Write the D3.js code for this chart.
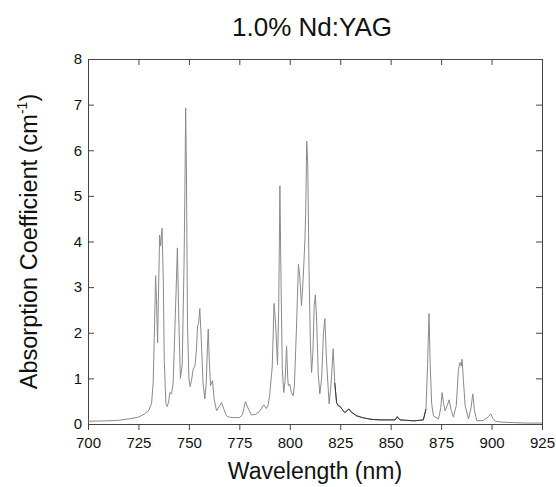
<!DOCTYPE html>
<html>
<head>
<meta charset="utf-8">
<script src="https://cdn.jsdelivr.net/npm/d3@7"></script>
<style>
  body { margin: 0; background: #fff; }
  text { font-family: "Liberation Sans", Arial, sans-serif; fill: #111; }
</style>
</head>
<body>
<svg width="556" height="487"></svg>
<script>

// wavelength (nm) and absorption coefficient (cm^-1)
var wavelength = [700,710,715,720,725,728,730,731.5,732.3,733,733.5,734,734.5,735,735.5,736,736.7,737.3,737.8,738.6,
    739.3,740,740.6,741.4,742.2,743.3,744.3,745,745.8,746.7,747.6,748,748.4,748.8,749.3,750,750.6,751.3,752.1,753,
    753.7,754.3,754.8,755.4,756.1,757,757.9,758.6,759.2,759.6,760.1,760.7,761.7,762.5,763.7,765,766.2,767.3,768.6,770,
    772,775,776.5,778,779.3,781,783,785.1,787.1,788.4,789.3,790,791.3,792.2,793,793.9,794.5,795.1,795.7,796.3,
    797,797.7,798.4,799,799.3,800,800.8,801.7,802.3,803.3,804.3,805,805.8,806.4,807,807.5,807.9,808.4,808.9,809.5,
    810.2,810.8,811.5,812.1,812.7,813.3,814.1,814.9,815.8,816.7,817.4,818.2,819.5,820.5,821.5,822.3,823.2,824,824.8,826,
    827.3,829.3,830.5,833.1,836,838.1,841,844.7,848,852.2,853.3,854.6,858,861.3,864,866.2,867.5,868.3,869,869.6,
    870.3,871.2,873.7,874.8,875.5,876.2,877,878,879,880,881.1,882.5,883.6,884.4,885,885.4,886,886.9,888.6,889.8,
    890.7,891.5,892.7,896,898.5,899.7,900.7,901.8,905,911,918,925];

var absorption = [0.06,0.07,0.08,0.11,0.15,0.22,0.29,0.45,0.9,2.2,3.25,2.6,1.78,3.0,4.14,3.9,4.29,3.2,1.4,0.45,
    0.38,0.5,0.69,0.66,0.9,2.4,3.86,2.3,1.0,1.3,3.5,5.0,6.93,5.5,2.2,1.0,0.82,0.95,1.2,1.27,
    1.6,2.15,2.2,2.53,1.9,0.9,0.55,0.9,1.7,2.08,1.4,0.84,0.95,0.55,0.29,0.38,0.47,0.33,0.18,0.15,
    0.14,0.14,0.2,0.49,0.35,0.2,0.21,0.28,0.42,0.34,0.42,0.62,1.25,2.64,2.19,1.3,2.5,5.22,3.0,1.2,
    0.69,0.95,1.71,1.0,0.84,0.87,0.69,0.62,0.85,2.08,3.5,3.2,2.59,3.0,3.53,4.04,4.65,6.2,5.7,3.5,
    1.8,1.13,1.6,2.6,2.83,2.3,1.1,0.66,1.0,2.0,2.31,1.4,0.44,0.9,1.65,0.9,0.47,0.4,0.39,0.32,
    0.25,0.33,0.26,0.18,0.14,0.12,0.1,0.09,0.09,0.09,0.16,0.09,0.08,0.07,0.08,0.09,0.33,1.3,2.42,1.3,
    0.45,0.18,0.11,0.35,0.69,0.45,0.29,0.4,0.53,0.3,0.15,0.4,1.2,1.35,1.27,1.42,1.0,0.4,0.11,0.35,
    0.66,0.3,0.07,0.08,0.16,0.22,0.12,0.06,0.04,0.03,0.02,0.02];

var xTicks = [700,725,750,775,800,825,850,875,900,925];
var yTicks = [0,1,2,3,4,5,6,7,8];

function main(){
    var svg = d3.select("svg"),
        left = 88, top = 59,
        width = 454, height = 365;

    var xScale = d3.scaleLinear().domain([700,925]).range([0,width]),
        yScale = d3.scaleLinear().domain([0,8]).range([height,0]);

    var xMinor = d3.range(700,925.1,12.5),
        yMinor = d3.range(0,8.01,0.5);

    var g = svg.append("g").attr("transform","translate("+left+","+top+")");

    // bottom axis: ticks point outward
    var bottom = g.append("g").attr("transform","translate(0,"+height+")")
        .call(d3.axisBottom(xScale).tickValues(xMinor).tickSize(4).tickFormat(""));
    bottom.call(d3.axisBottom(xScale).tickValues(xTicks).tickSize(6).tickPadding(7).tickFormat(d3.format("d")));
    bottom.selectAll("text").style("font-size","15px");

    // top axis mirror, ticks inward
    var topAx = g.append("g")
        .call(d3.axisTop(xScale).tickValues(xMinor).tickSize(-4).tickFormat(""));
    topAx.call(d3.axisTop(xScale).tickValues(xTicks).tickSize(-6).tickFormat(""));

    // left axis, ticks inward
    var leftAx = g.append("g")
        .call(d3.axisLeft(yScale).tickValues(yMinor).tickSize(-4).tickFormat(""));
    leftAx.call(d3.axisLeft(yScale).tickValues(yTicks).tickSize(-6).tickPadding(7).tickFormat(d3.format("d")));
    leftAx.selectAll("text").style("font-size","15px").attr("x",-6);

    // right axis mirror
    var rightAx = g.append("g").attr("transform","translate("+width+",0)")
        .call(d3.axisRight(yScale).tickValues(yMinor).tickSize(-4).tickFormat(""));
    rightAx.call(d3.axisRight(yScale).tickValues(yTicks).tickSize(-6).tickFormat(""));

    g.selectAll(".domain").attr("stroke","#444");
    g.selectAll(".tick line").attr("stroke","#444");

    var line = d3.line()
        .x(function(d,i){return xScale(wavelength[i]);})
        .y(function(d){return yScale(d);});

    g.append("path").datum(absorption)
        .attr("fill","none")
        .attr("stroke","#8a8a8a")
        .attr("stroke-width",1)
        .attr("stroke-linejoin","round")
        .attr("d",line);

    // the noisy stretch past 822 nm prints darker in the original
    var dark = d3.line()
        .defined(function(d,i){return wavelength[i] >= 822.3 && wavelength[i] <= 867.5;})
        .x(function(d,i){return xScale(wavelength[i]);})
        .y(function(d){return yScale(d);});
    g.append("path").datum(absorption)
        .attr("fill","none")
        .attr("stroke","#333")
        .attr("stroke-width",1)
        .attr("d",dark);

    svg.append("text")
        .attr("x",312).attr("y",36)
        .attr("text-anchor","middle")
        .style("font-size","26px")
        .text("1.0% Nd:YAG");

    svg.append("text")
        .attr("x",left+width/2).attr("y",479)
        .attr("text-anchor","middle")
        .style("font-size","23px")
        .text("Wavelength (nm)");

    var yt = svg.append("text")
        .attr("transform","translate(37,"+(top+height/2)+") rotate(-90)")
        .attr("text-anchor","middle")
        .style("font-size","23.5px");
    yt.append("tspan").text("Absorption Coefficient (cm");
    yt.append("tspan").attr("dy",-10).style("font-size","14px").text("-1");
    yt.append("tspan").attr("dy",10).text(")");
}

main();
</script>
</body>
</html>
